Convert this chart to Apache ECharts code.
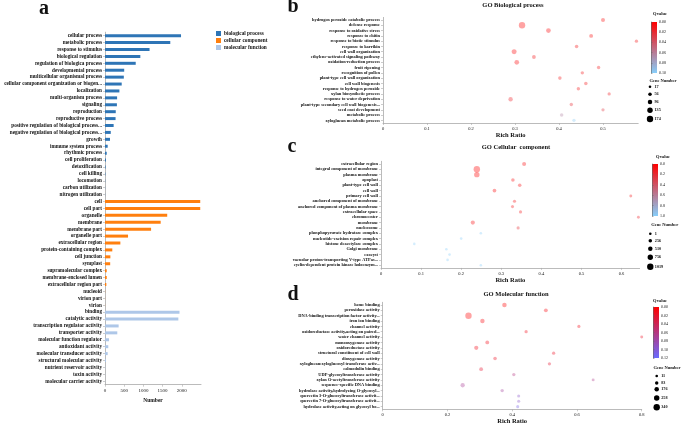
<!DOCTYPE html>
<html><head><meta charset="utf-8">
<script src="https://cdn.jsdelivr.net/npm/echarts@6/dist/echarts.min.js"></script>
<style>html,body{margin:0;padding:0;background:#fff}#c{width:685px;height:425px}</style>
</head><body><div id="c"></div>
<script>
const FONT = '"Liberation Serif","Times New Roman",serif';

// ---------- Panel a: GO classification counts ----------
const bpCategories = ['cellular process','metabolic process','response to stimulus','biological regulation','regulation of biologica process','developmental process','multicellular organismal process','cellular component organization or biogen...','localization','multi-organism process','signaling','reproduction','reproductive process','positive regulation of biological process...','negative regulation of biological process...','growth','immune system process','rhythmic process','cell proliferation','detoxification','cell killing','locomotion','carbon utilization','nitrogen utilization'];
const bpValues = [1980,1700,1160,920,800,500,490,435,375,315,310,280,275,225,150,130,70,45,25,15,10,5,3,3];
const ccCategories = ['cell','cell part','organelle','membrane','membrane part','organelle part','extracellular region','protein-containing complex','cell junction','symplast','supramolecular complex','membrane-enclosed lumen','extracellular region part','nucleoid','virion part','virion'];
const ccValues = [2480,2480,1620,1450,1200,600,400,190,140,135,45,45,35,3,2,2];
const mfCategories = ['binding','catalytic activity','transcription regulator activity','transporter activity','molecular function regulator','antioxidant activity','molecular transducer activity','structural molecular activity','nutrient reservoir activity','toxin activity','molecular carrier activity'];
const mfValues = [1940,1910,355,320,105,85,70,25,5,3,2];
const groupNames = ['biological process','cellular component','molecular function'];

// ---------- Panel b: GO Biological process enrichment ----------
const bTerms = ['hydrogen peroxide catabolic process','defense response','response to oxidative stress','response to chitin','response to biotic stimulus','response to karrikin','cell wall organization','ethylene-activated signaling pathway','oxidation-reduction process','fruit ripening','recognition of pollen','plant-type cell wall organization','cell wall biogenesis','response to hydrogen peroxide','xylan biosynthetic process','response to water deprivation','plant-type secondary cell wall biogenesis...','seed coat development','metabolic process','xyloglucan metabolic process'];
const bRich = [0.500,0.316,0.376,0.473,0.576,0.440,0.298,0.343,0.304,0.490,0.453,0.402,0.461,0.444,0.514,0.290,0.428,0.500,0.406,0.434];
const bQ = [0.005,0.0,0.002,0.005,0.008,0.008,0.003,0.008,0.003,0.01,0.01,0.01,0.01,0.01,0.012,0.015,0.02,0.025,0.065,0.098];
const bGenes = [75,174,104,70,45,55,116,65,104,50,50,55,55,50,45,90,50,45,55,45];
const bGeneTicks = [17,56,96,135,174];

// ---------- Panel c: GO Cellular component enrichment ----------
const cTerms = ['extracellular region','integral component of membrane','plasma membrane','apoplast','plant-type cell wall','cell wall','primary cell wall','anchored component of membrane','anchored component of plasma membrane','extracellular space','chromocenter','membrane','nucleosome','phosphopyruvate hydratase complex','nucleotide-excision repair complex','histone deacetylase complex','Golgi membrane','exocyst','vacuolar proton-transporting V-type ATPas...','cyclin-dependent protein kinase holoenzym...'];
const cRich = [0.357,0.239,0.239,0.329,0.346,0.283,0.623,0.333,0.328,0.348,0.642,0.229,0.342,0.249,0.200,0.083,0.163,0.171,0.166,0.249];
const cQ = [0.05,0.0,0.0,0.05,0.05,0.02,0.1,0.08,0.1,0.1,0.15,0.05,0.2,1,1,1,1,1,1,1];
const cGenes = [380,1019,760,250,250,300,90,150,120,150,60,420,150,2,3,1,6,10,6,1];
const cGeneTicks = [1,256,510,756,1019];

// ---------- Panel d: GO Molecular function enrichment ----------
const dTerms = ['heme binding','peroxidase activity','DNA-binding transcription factor activity...','iron ion binding','channel activity','oxidoreductase activity,acting on paired...','water channel activity','monooxygenase activity','oxidoreductase activity','structural constituent of cell wall','dioxygenase activity','xyloglucan:xyloglucosyl transferase activ...','calmodulin binding','UDP-glycosyltransferase activity','xylan O-acetyltransferase activity','sequence-specific DNA binding','hydrolase activity,hydrolyzing O-glycosyl...','quercetin 3-O-glucosyltransferase activit...','quercetin 7-O-glucosyltransferase activit...','hydrolase activity,acting on glycosyl bo...'];
const dRich = [0.376,0.504,0.265,0.308,0.606,0.443,0.800,0.323,0.289,0.528,0.347,0.515,0.304,0.405,0.650,0.247,0.369,0.420,0.420,0.417];
const dQ = [0.0,0.005,0.0,0.005,0.01,0.01,0.015,0.01,0.01,0.015,0.015,0.02,0.02,0.06,0.065,0.07,0.075,0.095,0.095,0.11];
const dGenes = [175,120,340,170,60,70,40,120,150,70,100,70,115,70,40,160,80,50,50,50];
const dGeneTicks = [11,83,176,258,340];

const SIZE = [2.6, 6.4];
function sizeOf(v, ticks){ const a=ticks[0], b=ticks[ticks.length-1]; return SIZE[0] + (v-a)/(b-a)*(SIZE[1]-SIZE[0]); }

const allCats = bpCategories.concat(ccCategories, mfCategories);
const pad = n => Array(n).fill('-');
const bpData = bpValues.concat(pad(ccCategories.length + mfCategories.length));
const ccData = pad(bpCategories.length).concat(ccValues, pad(mfCategories.length));
const mfData = pad(bpCategories.length + ccCategories.length).concat(mfValues);

const AX = '#aaa';
const txt = {fontFamily: FONT, color: '#111'};

function catY(gi, terms, fs){
  return {type:'category', gridIndex: gi, data: terms, inverse: true,
    axisLine:{show:true, lineStyle:{color:AX, width:0.8}},
    axisTick:{show:true, alignWithLabel:true, length:2, lineStyle:{color:AX, width:0.6}},
    axisLabel:Object.assign({fontSize: fs, fontWeight:'bold', margin:3, interval:0}, txt),
    splitLine:{show:false}};
}
function valX(gi, max, interval, fs, name, nameFs, gap, showMax){
  return {type:'value', gridIndex: gi, min:0, max:max, interval:interval,
    axisLine:{show:true, lineStyle:{color:AX, width:0.8}},
    axisTick:{show:true, length:2, lineStyle:{color:AX, width:0.6}},
    axisLabel:Object.assign({fontSize: fs, margin:3, showMaxLabel:!!showMax,
      formatter: v => interval < 1 ? (v===0 ? '0' : +v.toFixed(2)+'') : v}, txt),
    splitLine:{show:false},
    name:name, nameLocation:'middle', nameGap:gap,
    nameTextStyle:Object.assign({fontSize:nameFs, fontWeight:'bold'}, txt)};
}
function barGrid(left, top, w, h){ return {left, top, width:w, height:h, outerBoundsMode:'none', containLabel:false}; }
function cbAxis(gi, max, interval, dec){
  return {type:'value', gridIndex: gi, min:0, max:max, interval:interval, inverse:true, position:'right',
    axisLine:{show:true, lineStyle:{color:'#666', width:0.6}},
    axisTick:{show:true, length:1.5, lineStyle:{color:'#666', width:0.5}},
    axisLabel:Object.assign({fontSize:4, margin:2, showMaxLabel:true, formatter: v => v.toFixed(dec)}, txt),
    splitLine:{show:false}};
}

const scatterData = (rich, terms, q, genes) => rich.map((r,i)=>[r, terms[i], q[i], genes[i]]);

// colour bar boxes [left, top, width, height]
const CB = [[651, 22, 6, 51], [652, 164, 6, 52], [653, 307, 6, 51]];
const CB_COLORS = [['#ff0000','#87cefa'], ['#ff0000','#87cefa'], ['#ff0000','#6b6bff']];

const grids = [
  barGrid(105, 32.2, 96, 352.5),    // a
  barGrid(383, 17.4, 255.2, 105.6), // b
  barGrid(381, 161.3, 258.6, 106.6),// c
  barGrid(382.7, 302.3, 259, 107),  // d
  barGrid(CB[0][0], CB[0][1], CB[0][2], CB[0][3]),
  barGrid(CB[1][0], CB[1][1], CB[1][2], CB[1][3]),
  barGrid(CB[2][0], CB[2][1], CB[2][2], CB[2][3])
];

const xAxes = [
  valX(0, 2500, 500, 5, 'Number', 5.5, 8, false),
  valX(1, 0.58, 0.1, 4.5, 'Rich Ratio', 6.5, 9, false),
  valX(2, 0.645, 0.1, 4.5, 'Rich Ratio', 6.5, 9, false),
  valX(3, 0.8, 0.2, 4.5, 'Rich Ratio', 6.5, 9, true),
  {type:'value', gridIndex:4, show:false, min:0, max:1},
  {type:'value', gridIndex:5, show:false, min:0, max:1},
  {type:'value', gridIndex:6, show:false, min:0, max:1}
];
const yAxes = [
  catY(0, allCats, 5.2),
  catY(1, bTerms, 4.4),
  catY(2, cTerms, 4.4),
  catY(3, dTerms, 4.4),
  cbAxis(4, 0.10, 0.02, 2),
  cbAxis(5, 1.0, 0.2, 1),
  cbAxis(6, 0.12, 0.02, 2)
];

const barColors = ['#2e75b6','#ff7f0e','#aec7e8'];
const OP = 0.36;
const series = [
  {type:'bar', name:groupNames[0], xAxisIndex:0, yAxisIndex:0, data:bpData, barWidth:3, barGap:'-100%', itemStyle:{color:barColors[0]}},
  {type:'bar', name:groupNames[1], xAxisIndex:0, yAxisIndex:0, data:ccData, barWidth:3, barGap:'-100%', itemStyle:{color:barColors[1]}},
  {type:'bar', name:groupNames[2], xAxisIndex:0, yAxisIndex:0, data:mfData, barWidth:3, barGap:'-100%', itemStyle:{color:barColors[2]}},
  {type:'scatter', xAxisIndex:1, yAxisIndex:1, data:scatterData(bRich,bTerms,bQ,bGenes), itemStyle:{opacity:OP}},
  {type:'scatter', xAxisIndex:2, yAxisIndex:2, data:scatterData(cRich,cTerms,cQ,cGenes), itemStyle:{opacity:OP}},
  {type:'scatter', xAxisIndex:3, yAxisIndex:3, data:scatterData(dRich,dTerms,dQ,dGenes), itemStyle:{opacity:OP}}
];

function colorMap(si, max, colors){
  return {type:'continuous', seriesIndex:si, dimension:2, min:0, max:max, show:false, inRange:{color:colors}};
}
function sizeMap(si, ticks){
  return {type:'continuous', seriesIndex:si, dimension:3, min:ticks[0], max:ticks[ticks.length-1], show:false,
    inRange:{symbolSize:SIZE}};
}
const visualMaps = [
  colorMap(3, 0.10, CB_COLORS[0]),
  colorMap(4, 1.0, CB_COLORS[1]),
  colorMap(5, 0.12, CB_COLORS[2]),
  sizeMap(3, bGeneTicks), sizeMap(4, cGeneTicks), sizeMap(5, dGeneTicks)
];

// graphic: panel letters, titles, colour bars, gene-number legends
const G = [];
function T(x, y, s, fs, opts){
  G.push({type:'text', x:x, y:y, style:Object.assign({text:s, fontSize:fs, fontFamily:FONT, fontWeight:'bold', fill:'#111', align:'center', verticalAlign:'middle'}, opts||{})});
}
T(44, 8.5, 'a', 20); T(293, 7.3, 'b', 20); T(292, 146.5, 'c', 20); T(293, 295.3, 'd', 20);
T(513, 5, 'GO Biological process', 6.5);
T(516, 147, 'GO Cellular  component', 6.5);
T(516, 294, 'GO Molecular function', 6.5);
T(660, 13.5, 'Qvalue', 4.5); T(663, 156.7, 'Qvalue', 4.5); T(660, 300.7, 'Qvalue', 4.5);
CB.forEach((b, i) => {
  G.push({type:'rect', shape:{x:b[0], y:b[1], width:b[2], height:b[3]}, z:-1,
    style:{fill:new echarts.graphic.LinearGradient(0,0,0,1,[{offset:0,color:CB_COLORS[i][0]},{offset:1,color:CB_COLORS[i][1]}])}});
});
function geneLegend(ty, tx, dx, ys, ticks){
  T(tx, ty, 'Gene Number', 4.5);
  ticks.forEach((v,i)=>{
    G.push({type:'circle', shape:{cx:dx, cy:ys[i], r:sizeOf(v,ticks)/2}, style:{fill:'#000'}});
    T(dx+4.5, ys[i], String(v), 4.2, {align:'left'});
  });
}
geneLegend(80.7, 663, 650, [86.7,94.3,102,110.3,119], bGeneTicks);
geneLegend(225.3, 664.7, 650.3, [233.7,240.7,248.7,257.3,266.7], cGeneTicks);
geneLegend(367.7, 667, 656.7, [376,383,389.3,398,407.3], dGeneTicks);

const chart = echarts.init(document.getElementById('c'), null, {renderer:'canvas'});
chart.setOption({
  animation:false,
  backgroundColor:'#fff',
  textStyle:{fontFamily:FONT},
  grid:grids, xAxis:xAxes, yAxis:yAxes, series:series, visualMap:visualMaps,
  legend:{data:groupNames, orient:'vertical', left:216, top:31, itemWidth:5, itemHeight:5, itemGap:2,
    icon:'rect', padding:0, selectedMode:false,
    textStyle:{fontSize:5.3, fontWeight:'bold', fontFamily:FONT, color:'#111', padding:[0,0,0,-2]}},
  graphic:G
});
</script></body></html>
